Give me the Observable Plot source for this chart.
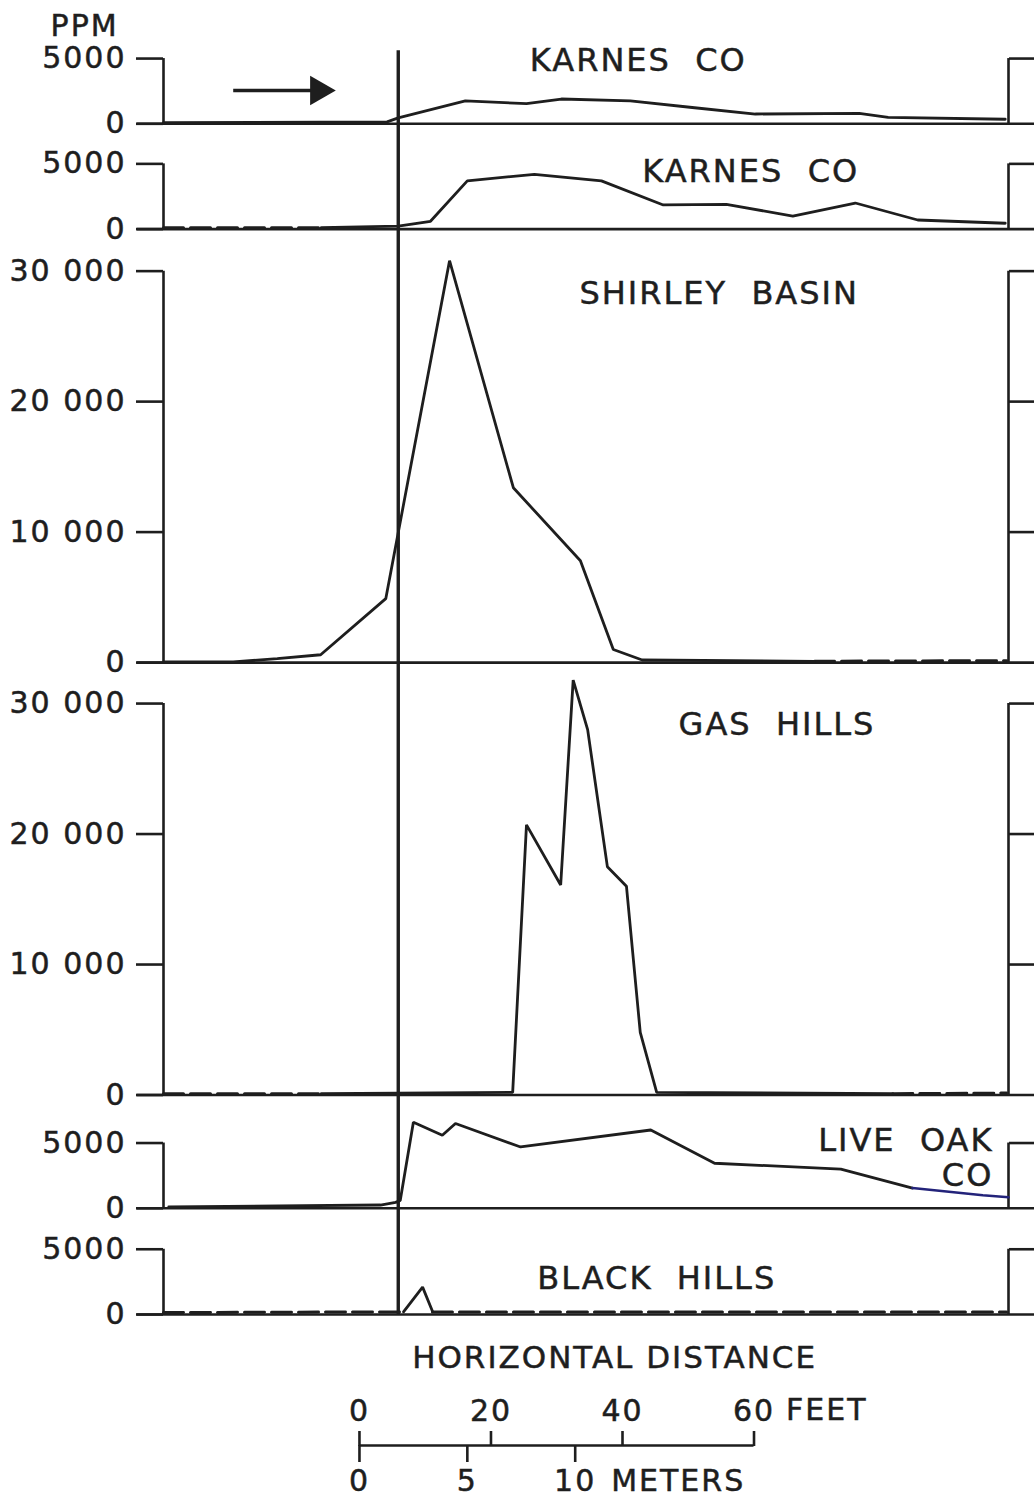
<!DOCTYPE html>
<html><head><meta charset="utf-8">
<script src="https://cdn.jsdelivr.net/npm/d3@7"></script>
<script src="https://cdn.jsdelivr.net/npm/@observablehq/plot@0.6"></script>
<style>
html,body{margin:0;padding:0;background:#fff;overflow:hidden;}
#chart{width:1034px;}
#chart svg{display:block;}
#chart text{stroke:#1e1e1e;stroke-width:0.5px;}
</style></head><body><div id="chart"></div>
<script>
// ---------- data (horizontal distance in feet, concentration in ppm) ----------
const panelNames   = ["KARNES  CO", "KARNES  CO", "SHIRLEY  BASIN", "GAS  HILLS", "LIVE  OAK", "BLACK  HILLS"];
const panelSubName = "CO";  // second line of the Live Oak label
const panelTopTick = [5000, 5000, 30000, 30000, 5000, 5000];
const panelTicks   = [[0, 5000], [0, 5000], [0, 10000, 20000, 30000], [0, 10000, 20000, 30000], [0, 5000], [0, 5000]];
const tickLabels   = {0: "0", 5000: "5000", 10000: "10 000", 20000: "20 000", 30000: "30 000"};

const karnes1X   = [0, 34, 35.7, 45.9, 55.2, 60.5, 71.0, 80.4, 90.0, 105.8, 110.2, 128.0];
const karnes1Ppm = [80, 150, 450, 1750, 1550, 1900, 1750, 1250, 750, 800, 500, 350];

const karnes2DashX   = [0, 24];
const karnes2DashPpm = [100, 100];
const karnes2X   = [24, 35.7, 40.6, 46.2, 56.4, 66.6, 76.0, 85.6, 95.7, 105.2, 114.7, 128.0];
const karnes2Ppm = [120, 230, 600, 3700, 4200, 3700, 1850, 1900, 1000, 2000, 700, 450];

const shirleyX   = [0, 10.6, 17.3, 23.9, 33.8, 43.5, 53.2, 63.4, 68.4, 72.8, 99];
const shirleyPpm = [50, 50, 300, 600, 4900, 30800, 13400, 7800, 1000, 200, 100];
const shirleyDashX   = [99, 128.2];
const shirleyDashPpm = [100, 150];

const gasDashX   = [0, 24];
const gasDashPpm = [100, 100];
const gasX   = [24, 53.1, 55.2, 60.4, 62.3, 64.5, 67.5, 70.4, 72.5, 75.0, 110.9];
const gasPpm = [100, 200, 20700, 16100, 31800, 28000, 17500, 16000, 4800, 200, 100];
const gasDash2X   = [110.9, 128.2];
const gasDash2Ppm = [100, 150];

const liveOakX   = [0.8, 33.0, 35.3, 36.0, 38.0, 42.4, 44.4, 54.3, 74.1, 83.8, 103.0, 113.9];
const liveOakPpm = [100, 250, 450, 600, 6600, 5600, 6500, 4700, 6000, 3450, 3000, 1550];
const liveOakBlueX   = [113.9, 124.6, 128.5];
const liveOakBluePpm = [1550, 1000, 850];

const blackDashX   = [0, 36.5];
const blackDashPpm = [150, 200];
const blackX   = [36.5, 39.4, 40.9];
const blackPpm = [200, 2100, 250];
const blackDash2X   = [40.9, 128.2];
const blackDash2Ppm = [200, 200];

// scale bar
const feetTicks  = [0, 20, 40, 60];
const meterTicks = [0, 5, 10];
const FT_PER_M = 3.28084;

// ---------- layout ----------
const X_RIGHT = 128.5;          // right bracket (ft)
const MARKER_X = 35.7;          // vertical reference line (ft)
const panelHeadroom = [4450, 3070, 3220, 3140, 3680, 3140]; // spacing above each top tick
const labelX   = [72.2, 89.3, 84.5, 93.3, 126.2, 75.0];
const labelPpm = [4830, 4400, 28240, 28390, 5210, 2720];

// stacked baselines (bottom panel at 0)
const base = new Array(6);
base[5] = 0;
for (let i = 4; i >= 0; i--) base[i] = base[i + 1] + panelTopTick[i + 1] + panelHeadroom[i + 1];
const yTop = base[0] + panelTopTick[0] + panelHeadroom[0];

function rows(panel, id, xs, ps) {
  return xs.map((x, i) => ({id, x, y: base[panel] + ps[i]}));
}
const solidRows = [
  ...rows(0, "k1", karnes1X, karnes1Ppm),
  ...rows(1, "k2", karnes2X, karnes2Ppm),
  ...rows(2, "sb", shirleyX, shirleyPpm),
  ...rows(3, "gh", gasX, gasPpm),
  ...rows(4, "lo", liveOakX, liveOakPpm),
  ...rows(5, "bh", blackX, blackPpm)
];
const dashRows = [
  ...rows(1, "k2d", karnes2DashX, karnes2DashPpm),
  ...rows(2, "sbd", shirleyDashX, shirleyDashPpm),
  ...rows(3, "ghd", gasDashX, gasDashPpm),
  ...rows(3, "ghd2", gasDash2X, gasDash2Ppm),
  ...rows(5, "bhd", blackDashX, blackDashPpm),
  ...rows(5, "bhd2", blackDash2X, blackDash2Ppm)
];
const blueRows = rows(4, "lob", liveOakBlueX, liveOakBluePpm);

const tickMap = new Map();
const leftTicks = [], rightTicks = [];
panelTicks.forEach((ts, p) => ts.forEach(t => {
  const v = base[p] + t;
  tickMap.set(v, tickLabels[t]);
  leftTicks.push(v);
  if (t > 0) rightTicks.push(v);
}));
const brackets = [];
panelTopTick.forEach((t, p) => {
  brackets.push({x: 0, y1: base[p], y2: base[p] + t});
  brackets.push({x: X_RIGHT, y1: base[p], y2: base[p] + t});
});
const centerLabels = [0, 1, 2, 3, 5].map(p => ({x: labelX[p], y: base[p] + labelPpm[p], text: panelNames[p]}));
const endLabels = [
  {x: labelX[4], y: base[4] + labelPpm[4], text: panelNames[4]},
  {x: labelX[4], y: base[4] + 2530, text: panelSubName}
];
const arrowRow = {x1: 10.6, x2: 23.6, y: base[0] + 2550};

const INK = "#1e1e1e";
const fontStyle = {
  fontFamily: "'DejaVu Sans', sans-serif",
  fontSize: "30px",
  letterSpacing: "2px",
  color: INK,
  background: "#fff",
  overflow: "visible"
};

const main = Plot.plot({
  width: 1034, height: 1330,
  marginLeft: 163, marginRight: 26, marginTop: 0, marginBottom: 16,
  x: {domain: [0, X_RIGHT], axis: null},
  y: {domain: [0, yTop]},
  style: fontStyle,
  marks: [
    Plot.axisY({anchor: "left", ticks: leftTicks, tickFormat: d => tickMap.get(d), tickSize: 27, tickPadding: 10, strokeWidth: 2.6, label: null}),
    Plot.axisY({anchor: "right", ticks: rightTicks, tickFormat: () => "", tickSize: 26, strokeWidth: 2.6, label: null}),
    Plot.ruleY(base, {y: d => d, x1: -4, x2: 133, stroke: INK, strokeWidth: 2.6}),
    Plot.ruleX(brackets, {x: "x", y1: "y1", y2: "y2", stroke: INK, strokeWidth: 2.6}),
    Plot.ruleX([MARKER_X], {x: d => d, y1: 0, y2: base[0] + 5600, stroke: INK, strokeWidth: 3.4}),
    Plot.line(dashRows, {x: "x", y: "y", z: "id", stroke: INK, strokeWidth: 3, strokeDasharray: "20 7"}),
    Plot.line(solidRows, {x: "x", y: "y", z: "id", stroke: INK, strokeWidth: 2.8, strokeLinejoin: "miter"}),
    Plot.line(blueRows, {x: "x", y: "y", z: "id", stroke: "#23237a", strokeWidth: 2.6}),
    Plot.link([arrowRow], {x1: "x1", x2: "x2", y1: "y", y2: "y", stroke: INK, strokeWidth: 3.5}),
    Plot.dot([arrowRow], {x: "x2", y: "y", symbol: "triangle", rotate: 90, r: 11, fill: INK, stroke: null}),
    Plot.text(centerLabels, {x: "x", y: "y", text: "text", fill: INK, fontSize: 32}),
    Plot.text(endLabels, {x: "x", y: "y", text: "text", textAnchor: "end", fill: INK, fontSize: 32}),
    Plot.text(["PPM"], {x: -12, y: base[0] + 7430, text: d => d, fill: INK})
  ]
});

const BAR_ORIGIN = 29.8; // ft from left bracket to scale-bar zero
const bottom = Plot.plot({
  width: 1034, height: 168,
  marginLeft: 163, marginRight: 26, marginTop: 115, marginBottom: 53,
  x: {domain: [-BAR_ORIGIN, X_RIGHT - BAR_ORIGIN]},
  y: {domain: [0, 1], axis: null},
  style: fontStyle,
  marks: [
    Plot.ruleY([0], {x1: 0, x2: 60, stroke: INK, strokeWidth: 2.6}),
    Plot.axisX({anchor: "top", ticks: feetTicks, tickFormat: d => String(d), tickSize: 15, tickPadding: 10, strokeWidth: 2.6, label: null}),
    Plot.axisX({anchor: "bottom", ticks: meterTicks.map(m => m * FT_PER_M), tickFormat: d => String(Math.round(d / FT_PER_M)), tickSize: 17, tickPadding: 7, strokeWidth: 2.6, label: null}),
    Plot.text(["FEET"], {x: 60, frameAnchor: "top", lineAnchor: "middle", text: d => d, dx: 32, dy: -35, textAnchor: "start", fill: INK}),
    Plot.text(["METERS"], {x: 10 * FT_PER_M, frameAnchor: "top", lineAnchor: "middle", text: d => d, dx: 36, dy: 36, textAnchor: "start", fill: INK}),
    Plot.text(["HORIZONTAL DISTANCE"], {x: 38.8, frameAnchor: "top", lineAnchor: "middle", text: d => d, dy: -87, fill: INK, fontSize: 31, letterSpacing: "0.8px"})
  ]
});

const root = document.getElementById("chart");
root.appendChild(main);
root.appendChild(bottom);
</script>
</body></html>
